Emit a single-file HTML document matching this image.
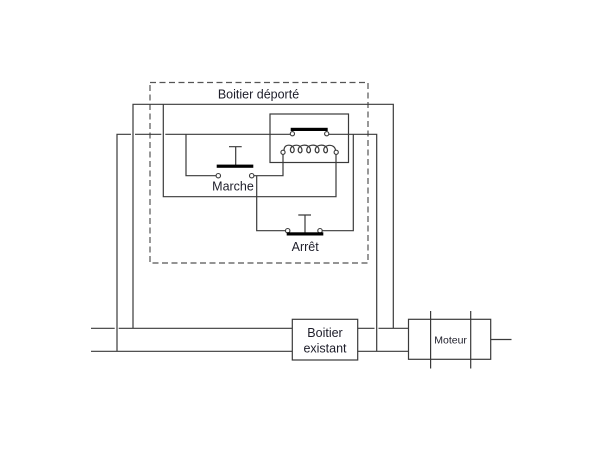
<!DOCTYPE html>
<html>
<head>
<meta charset="utf-8">
<style>
  html,body{margin:0;padding:0;background:#fff;}
  svg{display:block;}
  text{font-family:"Liberation Sans",Arial,sans-serif;fill:#1e1e2a;}
</style>
</head>
<body>
<svg width="600" height="450" viewBox="0 0 600 450" xmlns="http://www.w3.org/2000/svg">
  <rect width="600" height="450" fill="#fff"/>
  <!-- dashed box -->
  <rect x="150" y="82.5" width="218" height="180.5" fill="none" stroke="#555" stroke-width="1.2" stroke-dasharray="6,3.5"/>
  <text x="258.5" y="98.5" font-size="12.5" text-anchor="middle">Boitier déporté</text>

  <g fill="none" stroke="#3a3a3a" stroke-width="1.2">
    <!-- top loop line -->
    <path d="M133,328 V104.3 H393.3 V328"/>
    <!-- line y=134 -->
    <path d="M117,351 V134.3 H131"/>
    <path d="M135,134.3 H161.3"/>
    <path d="M165.3,134.3 H290.3"/>
    <path d="M328.7,134.3 H376.7 V351"/>
    <!-- marche left -->
    <path d="M186,134.3 V175.7 H216.3"/>
    <!-- marche right to coil -->
    <path d="M253.7,175.7 H283 V154.3"/>
    <!-- marche right down to arret -->
    <path d="M256.7,175.7 V230.7 H285.7"/>
    <!-- arret right -->
    <path d="M322,230.7 H353.3 V134.3"/>
    <!-- coil right to loop -->
    <path d="M336,154.5 V196.7 H163.3 V104.3"/>
    <!-- relay box -->
    <rect x="270" y="114" width="78.5" height="48.5"/>
    <!-- marche plunger -->
    <path d="M235.7,146.7 V165 M229,146.7 H241.7"/>
    <!-- arret plunger -->
    <path d="M305,215 V232.5 M298.3,215 H311"/>
    <!-- coil -->
    <path d="M284,150.5 C284,146 287,144.8 290,145.3 C294,146 295,150 293.5,152 C292,153.5 290,152 290.5,149 C291.5,145 297,144.5 299.5,146 C302.5,148 302.5,151.5 301,152.5 C299.5,153.5 297.5,151.5 298.5,148.5 C300,144.8 305.5,144.5 308,146 C311,148 311,151.5 309.5,152.5 C308,153.5 306,151.5 307,148.5 C308.5,144.8 314,144.5 316.5,146 C319.5,148 319.5,151.5 318,152.5 C316.5,153.5 314.5,151.5 315.5,148.5 C317,144.8 322.5,144.5 325,146 C328,148 328,151.5 326.5,152.5 C325,153.5 323,151.5 324,148.5 C325.5,145 331,144.5 333.5,146.5 C335,147.8 335.5,149 335.5,150.5"/>
    <!-- bottom lines -->
    <path d="M91,328.3 H114.7 M118.7,328.3 H292.3 M357.7,328.3 H374.5 M378.5,328.3 H408.5"/>
    <path d="M91,351.3 H292.3 M357.7,351.3 H408.5"/>
    <!-- boxes -->
    <rect x="292.3" y="319.3" width="65.4" height="40.7"/>
    <rect x="408.5" y="319.3" width="82.2" height="40"/>
    <path d="M430.6,311 V368.5 M470.7,311 V368.5"/>
    <path d="M490.7,339.5 H511.5"/>
  </g>

  <!-- contact circles -->
  <g fill="#fff" stroke="#3a3a3a" stroke-width="1.1">
    <circle cx="218.3" cy="175.7" r="2.2"/>
    <circle cx="251.7" cy="175.7" r="2.2"/>
    <circle cx="287.7" cy="230.7" r="2.2"/>
    <circle cx="320" cy="230.7" r="2.2"/>
    <circle cx="292.4" cy="133.7" r="2.1"/>
    <circle cx="326.7" cy="133.7" r="2.1"/>
    <circle cx="283" cy="152.3" r="2.1"/>
    <circle cx="336.2" cy="152.3" r="2.1"/>
  </g>
  <!-- bars -->
  <g fill="#000">
    <rect x="216.7" y="164.6" width="36.6" height="3.2"/>
    <rect x="286.7" y="232.3" width="36.6" height="3.2"/>
    <rect x="290.7" y="127.8" width="37" height="3.2"/>
  </g>

  <text x="233" y="190.5" font-size="12.5" text-anchor="middle">Marche</text>
  <text x="305.2" y="251" font-size="12.5" text-anchor="middle">Arrêt</text>
  <text x="325" y="337" font-size="12.5" text-anchor="middle">Boitier</text>
  <text x="325" y="352.5" font-size="12.5" text-anchor="middle">existant</text>
  <text x="450.6" y="343.3" font-size="10.5" text-anchor="middle">Moteur</text>
</svg>
</body>
</html>
